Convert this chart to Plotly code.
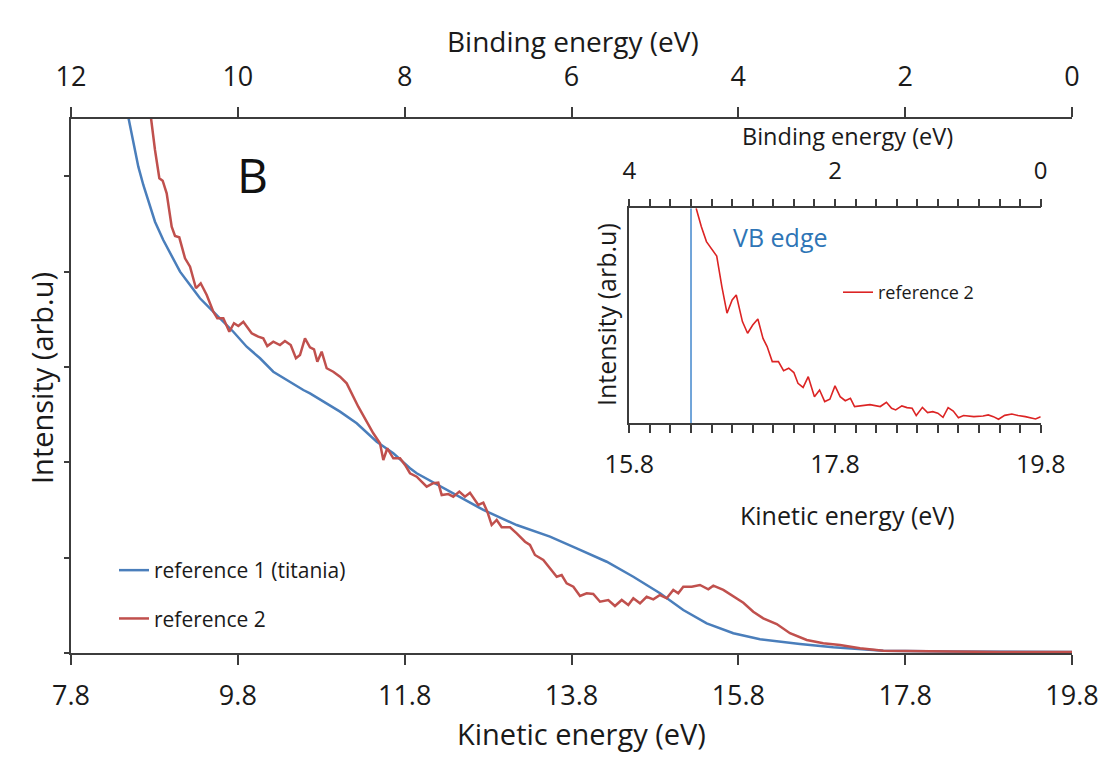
import plotly.graph_objects as go

# ---------------- data ----------------
# Main panel: kinetic energy (eV) vs intensity (arb. units)
ke_ref1 = [8.487, 8.547, 8.607, 8.667, 8.727, 8.807, 8.906, 9.007, 9.107, 9.227,
           9.346, 9.466, 9.607, 9.746, 9.906, 10.066, 10.225, 10.386, 10.585, 10.665,
           10.825, 11.025, 11.225, 11.465, 11.664, 11.864, 11.944, 12.343, 12.743, 13.143,
           13.542, 13.862, 14.222, 14.541, 14.861, 15.140, 15.421, 15.740, 16.060, 16.539,
           16.938, 17.538, 18.337, 19.800]
int_ref1 = [5.62, 5.345, 5.100, 4.908, 4.751, 4.523, 4.331, 4.156, 3.999, 3.859,
            3.720, 3.615, 3.492, 3.369, 3.212, 3.091, 2.950, 2.863, 2.758, 2.723,
            2.635, 2.531, 2.409, 2.216, 2.094, 1.937, 1.885, 1.692, 1.500, 1.342,
            1.220, 1.098, 0.957, 0.800, 0.626, 0.451, 0.311, 0.207, 0.144, 0.094,
            0.060, 0.024, 0.016, 0.010]

ke_ref2 = [8.759, 8.807, 8.859, 8.899, 8.947, 9.007, 9.047, 9.098, 9.167, 9.227,
           9.298, 9.355, 9.427, 9.506, 9.554, 9.626, 9.698, 9.754, 9.806, 9.866,
           9.966, 10.045, 10.105, 10.153, 10.225, 10.305, 10.365, 10.434, 10.497, 10.545,
           10.605, 10.665, 10.713, 10.753, 10.805, 10.865, 10.944, 11.025, 11.105, 11.165,
           11.244, 11.345, 11.424, 11.504, 11.544, 11.592, 11.664, 11.744, 11.804, 11.864,
           11.944, 12.064, 12.143, 12.203, 12.244, 12.323, 12.383, 12.455, 12.523, 12.583,
           12.683, 12.743, 12.791, 12.843, 12.903, 12.963, 13.063, 13.143, 13.243, 13.302,
           13.362, 13.462, 13.542, 13.623, 13.682, 13.742, 13.822, 13.902, 13.982, 14.061,
           14.142, 14.241, 14.321, 14.402, 14.481, 14.541, 14.621, 14.701, 14.781, 14.861,
           14.941, 15.020, 15.080, 15.140, 15.241, 15.340, 15.440, 15.500, 15.620, 15.740,
           15.860, 15.979, 16.099, 16.260, 16.419, 16.620, 16.818, 17.019, 17.259, 17.538,
           17.980, 18.460, 18.940, 19.800]
int_ref2 = [5.61, 5.275, 4.978, 4.953, 4.821, 4.471, 4.373, 4.359, 4.139, 4.051,
            3.825, 3.877, 3.754, 3.579, 3.510, 3.510, 3.369, 3.458, 3.429, 3.474,
            3.353, 3.317, 3.300, 3.219, 3.265, 3.230, 3.272, 3.230, 3.091, 3.125,
            3.300, 3.206, 3.185, 3.055, 3.160, 2.986, 2.950, 2.898, 2.828, 2.723,
            2.583, 2.426, 2.304, 2.199, 2.024, 2.147, 2.042, 2.042, 1.972, 1.885,
            1.849, 1.744, 1.780, 1.786, 1.657, 1.667, 1.639, 1.692, 1.639, 1.681,
            1.552, 1.576, 1.482, 1.342, 1.395, 1.318, 1.318, 1.255, 1.167, 1.133,
            1.028, 0.975, 0.888, 0.800, 0.818, 0.731, 0.695, 0.598, 0.626, 0.619,
            0.538, 0.556, 0.493, 0.556, 0.503, 0.574, 0.521, 0.590, 0.563, 0.608,
            0.574, 0.661, 0.626, 0.695, 0.695, 0.713, 0.668, 0.706, 0.661, 0.590,
            0.527, 0.433, 0.364, 0.304, 0.207, 0.136, 0.102, 0.084, 0.049, 0.024,
            0.018, 0.016, 0.010, 0.010]

# Inset: reference 2 near the valence-band edge (normalised intensity)
ke_inset = [16.45, 16.50, 16.55, 16.60, 16.65, 16.70, 16.75, 16.80, 16.84, 16.90,
            16.95, 17.00, 17.05, 17.10, 17.14, 17.19, 17.25, 17.30, 17.35, 17.40,
            17.44, 17.49, 17.54, 17.60, 17.65, 17.70, 17.75, 17.80, 17.85, 17.90,
            17.95, 17.99, 18.04, 18.14, 18.24, 18.30, 18.35, 18.39, 18.45, 18.50,
            18.55, 18.59, 18.65, 18.70, 18.75, 18.80, 18.85, 18.90, 18.95, 19.00,
            19.05, 19.15, 19.24, 19.29, 19.34, 19.39, 19.45, 19.52, 19.58, 19.65,
            19.75, 19.80]
int_inset = [1.000, 0.915, 0.845, 0.814, 0.778, 0.636, 0.512, 0.574, 0.597, 0.473,
             0.419, 0.457, 0.485, 0.395, 0.357, 0.287, 0.287, 0.245, 0.256, 0.236,
             0.186, 0.167, 0.217, 0.124, 0.155, 0.101, 0.112, 0.174, 0.124, 0.105,
             0.116, 0.078, 0.081, 0.087, 0.078, 0.098, 0.070, 0.062, 0.081, 0.073,
             0.070, 0.036, 0.074, 0.050, 0.054, 0.047, 0.028, 0.073, 0.057, 0.026,
             0.036, 0.031, 0.034, 0.039, 0.031, 0.019, 0.037, 0.043, 0.036, 0.031,
             0.020, 0.031]

vb_edge_ke = [16.40, 16.40]
vb_edge_int = [0.0, 1.0]

BE_OFFSET = 19.8  # binding energy = 19.8 eV - kinetic energy

ke_ticks_main = [7.8, 9.8, 11.8, 13.8, 15.8, 17.8, 19.8]
be_ticks_main = [12, 10, 8, 6, 4, 2, 0]
ke_ticks_inset = [15.8, 17.8, 19.8]
be_ticks_inset = [4, 2, 0]
int_ticks_main = [0, 1, 2, 3, 4, 5]

# ---------------- styling ----------------
FONT = "Open Sans"
TXT = "#1a1a1a"
AX = "#3c3c3c"
BLUE = "#4a7ebb"
RED = "#c0504d"
RED_IN = "#dc2424"
VB_BLUE = "#4f8fd0"

fig = go.Figure()

fig.add_trace(go.Scatter(x=ke_ref1, y=int_ref1, mode="lines", name="reference 1 (titania)",
                         line=dict(color=BLUE, width=2.5), xaxis="x", yaxis="y",
                         legend="legend", legendgroup="g1", hoverinfo="skip"))
fig.add_trace(go.Scatter(x=ke_ref2, y=int_ref2, mode="lines", name="reference 2",
                         line=dict(color=RED, width=2.5), xaxis="x", yaxis="y",
                         legend="legend", legendgroup="g2", hoverinfo="skip"))
# invisible trace carrying the binding-energy (top) axis
fig.add_trace(go.Scatter(x=[BE_OFFSET - k for k in ke_ref2], y=int_ref2, mode="lines",
                         line=dict(width=0), opacity=0, xaxis="x2", yaxis="y",
                         showlegend=False, hoverinfo="skip"))

# inset
fig.add_trace(go.Scatter(x=vb_edge_ke, y=vb_edge_int, mode="lines",
                         line=dict(color=VB_BLUE, width=1.6), xaxis="x3", yaxis="y3",
                         showlegend=False, hoverinfo="skip"))
fig.add_trace(go.Scatter(x=ke_inset, y=int_inset, mode="lines", name="reference 2",
                         line=dict(color=RED_IN, width=1.6), xaxis="x3", yaxis="y3",
                         legend="legend2", hoverinfo="skip"))
fig.add_trace(go.Scatter(x=[BE_OFFSET - k for k in ke_inset], y=int_inset, mode="lines",
                         line=dict(width=0), opacity=0, xaxis="x4", yaxis="y3",
                         showlegend=False, hoverinfo="skip"))

W, H = 1112, 764
main_x_dom = [71 / W, 1072 / W]
main_y_dom = [(H - 653) / H, (H - 119) / H]
in_x_dom = [629.3 / W, 1040.7 / W]
in_y_dom = [(H - 423.3) / H, (H - 208.3) / H]

axis_common = dict(showgrid=False, zeroline=False, showline=True, linecolor=AX,
                   tickcolor=AX, ticks="outside", mirror=False, automargin=False)

fig.update_layout(
    width=W, height=H,
    margin=dict(l=0, r=0, t=0, b=0, autoexpand=False),
    paper_bgcolor="white", plot_bgcolor="white",
    font=dict(family=FONT, color=TXT),
    xaxis=dict(**axis_common, domain=main_x_dom, anchor="y", range=[7.8, 19.8],
               tickvals=ke_ticks_main, ticktext=[f"{v:.1f}" for v in ke_ticks_main],
               linewidth=2, tickwidth=2, ticklen=10, ticklabelstandoff=8,
               tickfont=dict(size=27, family=FONT, color=TXT)),
    xaxis2=dict(**axis_common, overlaying="x", side="top", anchor="y", range=[12, 0],
                tickvals=be_ticks_main, ticktext=[str(v) for v in be_ticks_main],
                linewidth=2, tickwidth=2, ticklen=10, ticklabelstandoff=10,
                tickfont=dict(size=27, family=FONT, color=TXT)),
    yaxis=dict(**axis_common, domain=main_y_dom, anchor="x", range=[0, 5.6],
               tickvals=int_ticks_main, showticklabels=False,
               linewidth=2, tickwidth=2, ticklen=5),
    xaxis3=dict(**axis_common, domain=in_x_dom, anchor="y3", range=[15.8, 19.8],
                tickvals=ke_ticks_inset, ticktext=[f"{v:.1f}" for v in ke_ticks_inset],
                linewidth=1.5, tickwidth=1.5, ticklen=8, ticklabelstandoff=10,
                minor=dict(ticks="outside", tick0=15.8, dtick=0.2, ticklen=8,
                           tickwidth=1.5, tickcolor=AX, showgrid=False),
                tickfont=dict(size=25, family=FONT, color=TXT)),
    xaxis4=dict(**axis_common, overlaying="x3", side="top", anchor="y3", range=[4, 0],
                tickvals=be_ticks_inset, ticktext=[str(v) for v in be_ticks_inset],
                linewidth=1.5, tickwidth=1.5, ticklen=8, ticklabelstandoff=10,
                minor=dict(ticks="outside", tick0=0, dtick=0.2, ticklen=8,
                           tickwidth=1.5, tickcolor=AX, showgrid=False),
                tickfont=dict(size=24, family=FONT, color=TXT)),
    yaxis3=dict(showgrid=False, zeroline=False, showline=True, linecolor=AX, linewidth=1.5,
                domain=in_y_dom, anchor="x3", range=[0, 1], ticks="", showticklabels=False,
                automargin=False),
    legend=dict(x=114 / W, y=(H - 550) / H, xanchor="left", yanchor="top",
                bgcolor="rgba(0,0,0,0)", font=dict(size=21, family=FONT, color=TXT),
                tracegroupgap=18, itemwidth=30, traceorder="grouped"),
    legend2=dict(x=838 / W, y=(H - 274) / H, xanchor="left", yanchor="top",
                 bgcolor="rgba(0,0,0,0)", font=dict(size=18, family=FONT, color=TXT),
                 itemwidth=30),
    showlegend=True,
)

ann = [
    dict(text="Binding energy (eV)", x=573 / W, y=(H - 41) / H, size=28),
    dict(text="Kinetic energy (eV)", x=581 / W, y=(H - 733) / H, size=29),
    dict(text="Binding energy (eV)", x=847 / W, y=(H - 136) / H, size=23.5),
    dict(text="Kinetic energy (eV)", x=847 / W, y=(H - 515) / H, size=25),
]
for a in ann:
    fig.add_annotation(text=a["text"], x=a["x"], y=a["y"], xref="paper", yref="paper",
                       xanchor="center", yanchor="middle", showarrow=False,
                       font=dict(size=a["size"], family=FONT, color=TXT))
fig.add_annotation(text="Intensity (arb.u)", x=41 / W, y=(H - 378) / H,
                   xref="paper", yref="paper", textangle=-90, showarrow=False,
                   xanchor="center", yanchor="middle",
                   font=dict(size=29, family=FONT, color=TXT))
fig.add_annotation(text="Intensity (arb.u)", x=606 / W, y=(H - 315) / H,
                   xref="paper", yref="paper", textangle=-90, showarrow=False,
                   xanchor="center", yanchor="middle",
                   font=dict(size=25, family=FONT, color=TXT))
fig.add_annotation(text="B", x=252 / W, y=(H - 175) / H, xref="paper", yref="paper",
                   showarrow=False, xanchor="center", yanchor="middle",
                   font=dict(size=48, family=FONT, color="#111111"))
fig.add_annotation(text="VB edge", x=780 / W, y=(H - 237) / H, xref="paper",
                   yref="paper", showarrow=False, xanchor="center", yanchor="middle",
                   font=dict(size=25, family=FONT, color="#2e75b6"))

fig.write_html("out.html")
